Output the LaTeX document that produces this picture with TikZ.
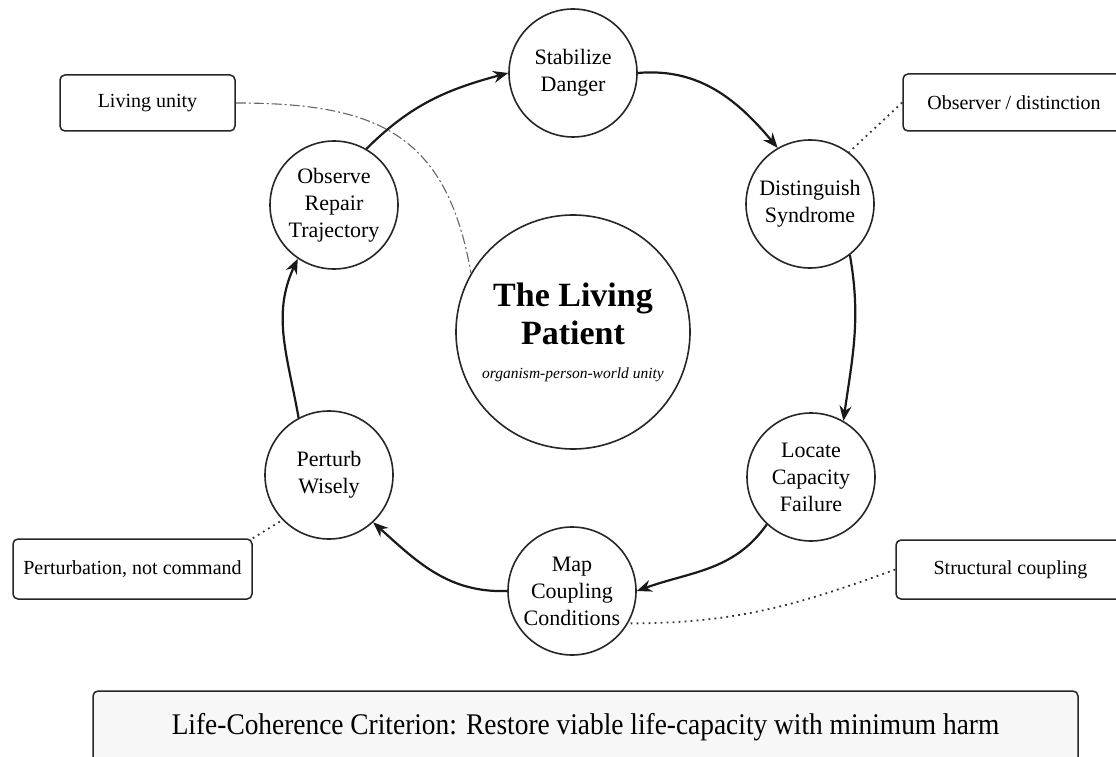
\documentclass[tikz,border=0pt]{standalone}
\usepackage{fontspec}
\setmainfont{Liberation Serif}
\usetikzlibrary{arrows.meta}
\begin{document}
\begin{tikzpicture}[x=1pt,y=-1pt,
  stage/.style={circle, draw=black!85, line width=1.6pt, minimum size=128pt, inner sep=0pt, align=center, font=\fontsize{22}{27}\selectfont},
  hub/.style={circle, draw=black!85, line width=1.6pt, minimum size=234pt, inner sep=0pt, align=center},
  note/.style={draw=black!85, line width=1.5pt, rounded corners=5pt, inner sep=0pt, font=\fontsize{20}{24}\selectfont},
  flow/.style={-{Stealth[length=15pt,width=12pt]}, line width=2.2pt, black!90},
  link/.style={line width=1.8pt, black!80, dash pattern=on 1.8pt off 4.2pt},
  dlink/.style={line width=1.1pt, black!60, dash pattern=on 10pt off 3pt on 2pt off 3pt}
]
\useasboundingbox (0,0) rectangle (1116,757);
\clip (0,0) rectangle (1116,757);
\fill[white] (0,0) rectangle (1116,757);

% cycle stages
\node[stage] (stab) at (573,73) {Stabilize\\Danger};
\node[stage] (dist) at (810,204) {Distinguish\\Syndrome};
\node[stage] (loc) at (811,477) {Locate\\Capacity\\Failure};
\node[stage] (map) at (572,591) {Map\\Coupling\\Conditions};
\node[stage] (pert) at (329,475) {Perturb\\Wisely};
\node[stage] (obs) at (334,205) {Observe\\Repair\\Trajectory};

% hub
\node[hub, font=\fontsize{34}{38}\selectfont\bfseries] (hub) at (573,332)
  {The Living\\Patient\\[-4pt]{\mdseries\itshape\fontsize{15.5}{18}\selectfont organism-person-world unity}};

% side notes
\node[note, minimum width=175pt, minimum height=56pt] (livbox) at (147.5,103) {Living unity};
\node[note, minimum width=222pt, minimum height=57pt] (obsbox) at (1014,102.5) {Observer / distinction};
\node[note, minimum width=239pt, minimum height=60pt] (pertbox) at (132.5,569) {Perturbation, not command};
\node[note, minimum width=229pt, minimum height=59pt] (scbox) at (1010.5,569.5) {Structural coupling};

% criterion (runs past the lower edge of the picture)
\node[note, fill=black!3, minimum width=985pt, minimum height=72pt, font=\fontsize{30}{34}\selectfont] (crit) at (585.5,727)
  {\scalebox{0.913}[1]{Life-Coherence Criterion: Restore viable life-capacity with minimum harm}};

% cycle arrows
\draw[flow] (obs.60) to[out=45, in=195] (stab.west);
\draw[flow] (stab.east) to[out=5, in=130] (dist.120);
\draw[flow] (dist.-52) to[out=-80, in=82] (loc.60);
\draw[flow] (loc.-133) to[out=-125, in=20] (map.east);
\draw[flow] (map.west) to[out=182, in=-42] (pert.-47);
\draw[flow] (pert.118) to[out=100, in=245] (obs.236);

% annotation links
\draw[dlink] (livbox.east) to[out=0, in=100, looseness=1.25] (hub.150);
\draw[link] (obsbox.west) -- (dist.53);
\draw[link] (pertbox.north east) -- (pert.224);
\draw[link] (scbox.west) to[out=200, in=0] (map.-30);
\end{tikzpicture}
\end{document}
